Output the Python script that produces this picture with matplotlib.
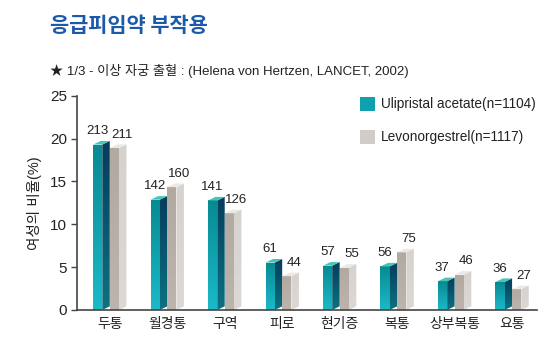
import matplotlib
matplotlib.use("Agg")
from matplotlib import pyplot as plt
from matplotlib.patches import Polygon, Rectangle
import numpy as np

plt.rcParams['font.family'] = ['Liberation Sans', 'Noto Sans CJK KR', 'DejaVu Sans']

categories = ["두통", "월경통", "구역", "피로", "현기증", "복통", "상부복통", "요통"]
ulipristal = [213, 142, 141, 61, 57, 56, 37, 36]
levonorgestrel = [211, 160, 126, 44, 55, 75, 46, 27]
n_uli = 1104
n_levo = 1117
yticks = [0, 5, 10, 15, 20, 25]

pct_uli = np.array(ulipristal) / n_uli * 100
pct_levo = np.array(levonorgestrel) / n_levo * 100

fig = plt.figure(figsize=(5.5, 3.38), dpi=100)
ax = fig.add_axes([0.14, 0.083, 0.836, 0.634])
ax.set_xlim(-0.57, 7.43)
ax.set_ylim(0, 25)

FRONT = 0.16   # front face width
DEPTH = 0.13   # side face width
RISE = 0.42    # vertical offset of the back edge


def grad_poly(ax, verts, c_top, c_bot):
    """Polygon filled with a vertical gradient."""
    verts = np.array(verts)
    x0, x1 = verts[:, 0].min(), verts[:, 0].max()
    y0, y1 = verts[:, 1].min(), verts[:, 1].max()
    ct = np.array(matplotlib.colors.to_rgb(c_top))
    cb = np.array(matplotlib.colors.to_rgb(c_bot))
    t = np.linspace(0, 1, 64)[:, None]
    img = (cb * (1 - t) + ct * t)[:, None, :]
    im = ax.imshow(img, extent=(x0, x1, y0, y1), origin="lower",
                   aspect="auto", interpolation="bilinear", zorder=2)
    poly = Polygon(verts, closed=True, facecolor="none", edgecolor="none")
    ax.add_patch(poly)
    im.set_clip_path(poly)


def bar3d(ax, x0, h, front, side, top):
    x1 = x0 + FRONT
    grad_poly(ax, [(x0, 0), (x1, 0), (x1, h), (x0, h)], *front)
    grad_poly(ax, [(x1, 0), (x1 + DEPTH, RISE), (x1 + DEPTH, h + RISE), (x1, h)], *side)
    ax.add_patch(Polygon([(x0, h), (x1, h), (x1 + DEPTH, h + RISE), (x0 + DEPTH, h + RISE)],
                         closed=True, facecolor=top, edgecolor="none", zorder=3))


teal = (("#078a92", "#1cb9c9"), ("#053d5c", "#0c7282"), "#45c6b6")
grey = (("#b2a9a1", "#bdb5ad"), ("#d6d2cd", "#dcd8d4"), "#ebe8e5")

for i in range(len(categories)):
    xa = i - FRONT - DEPTH
    xb = i
    bar3d(ax, xa, pct_uli[i], *teal)
    bar3d(ax, xb, pct_levo[i], *grey)
    ax.text(xa + (FRONT + DEPTH) / 2 - 0.07, pct_uli[i] + RISE + 0.45, str(ulipristal[i]),
            ha="center", va="bottom", fontsize=9.5, color="#222222")
    ax.text(xb + (FRONT + DEPTH) / 2 + 0.06, pct_levo[i] + RISE + 0.45, str(levonorgestrel[i]),
            ha="center", va="bottom", fontsize=9.5, color="#222222")

ax.set_xlim(-0.57, 7.43)
ax.set_ylim(0, 25)

ax.set_yticks(yticks)
ax.set_yticklabels([str(v) for v in yticks], fontsize=11, color="#222222")
ax.set_xticks(range(len(categories)))
ax.set_xticklabels(categories, fontsize=10, color="#222222")
ax.tick_params(axis="x", length=0, pad=5)
ax.tick_params(axis="y", length=4, width=1, direction="out", color="#444444", pad=3)
for s in ["top", "right"]:
    ax.spines[s].set_visible(False)
for s in ["left", "bottom"]:
    ax.spines[s].set_color("#444444")
    ax.spines[s].set_linewidth(1.2)
ax.set_ylabel("여성의 비율(%)", fontsize=10.5, color="#222222", labelpad=6)

# legend squares
fig.patches.append(Rectangle((0.655, 0.672), 0.026, 0.042, transform=fig.transFigure,
                             facecolor="#0fa2ac", edgecolor="none"))
fig.patches.append(Rectangle((0.655, 0.574), 0.026, 0.042, transform=fig.transFigure,
                             facecolor="#d1ccc6", edgecolor="none"))
fig.text(0.693, 0.693, "Ulipristal acetate(n=1104)", fontsize=9.8, va="center", color="#222222")
fig.text(0.693, 0.595, "Levonorgestrel(n=1117)", fontsize=9.8, va="center", color="#222222")

fig.text(0.09, 0.925, "응급피임약 부작용", fontsize=15, fontweight="bold",
         color="#1b5aa9", family=["Noto Sans CJK KR"], va="center")
fig.text(0.09, 0.79, "★ 1/3 - 이상 자궁 출혈 : (Helena von Hertzen, LANCET, 2002)",
         fontsize=9.5, color="#222222", va="center")

fig.savefig("out.png", dpi=100)
